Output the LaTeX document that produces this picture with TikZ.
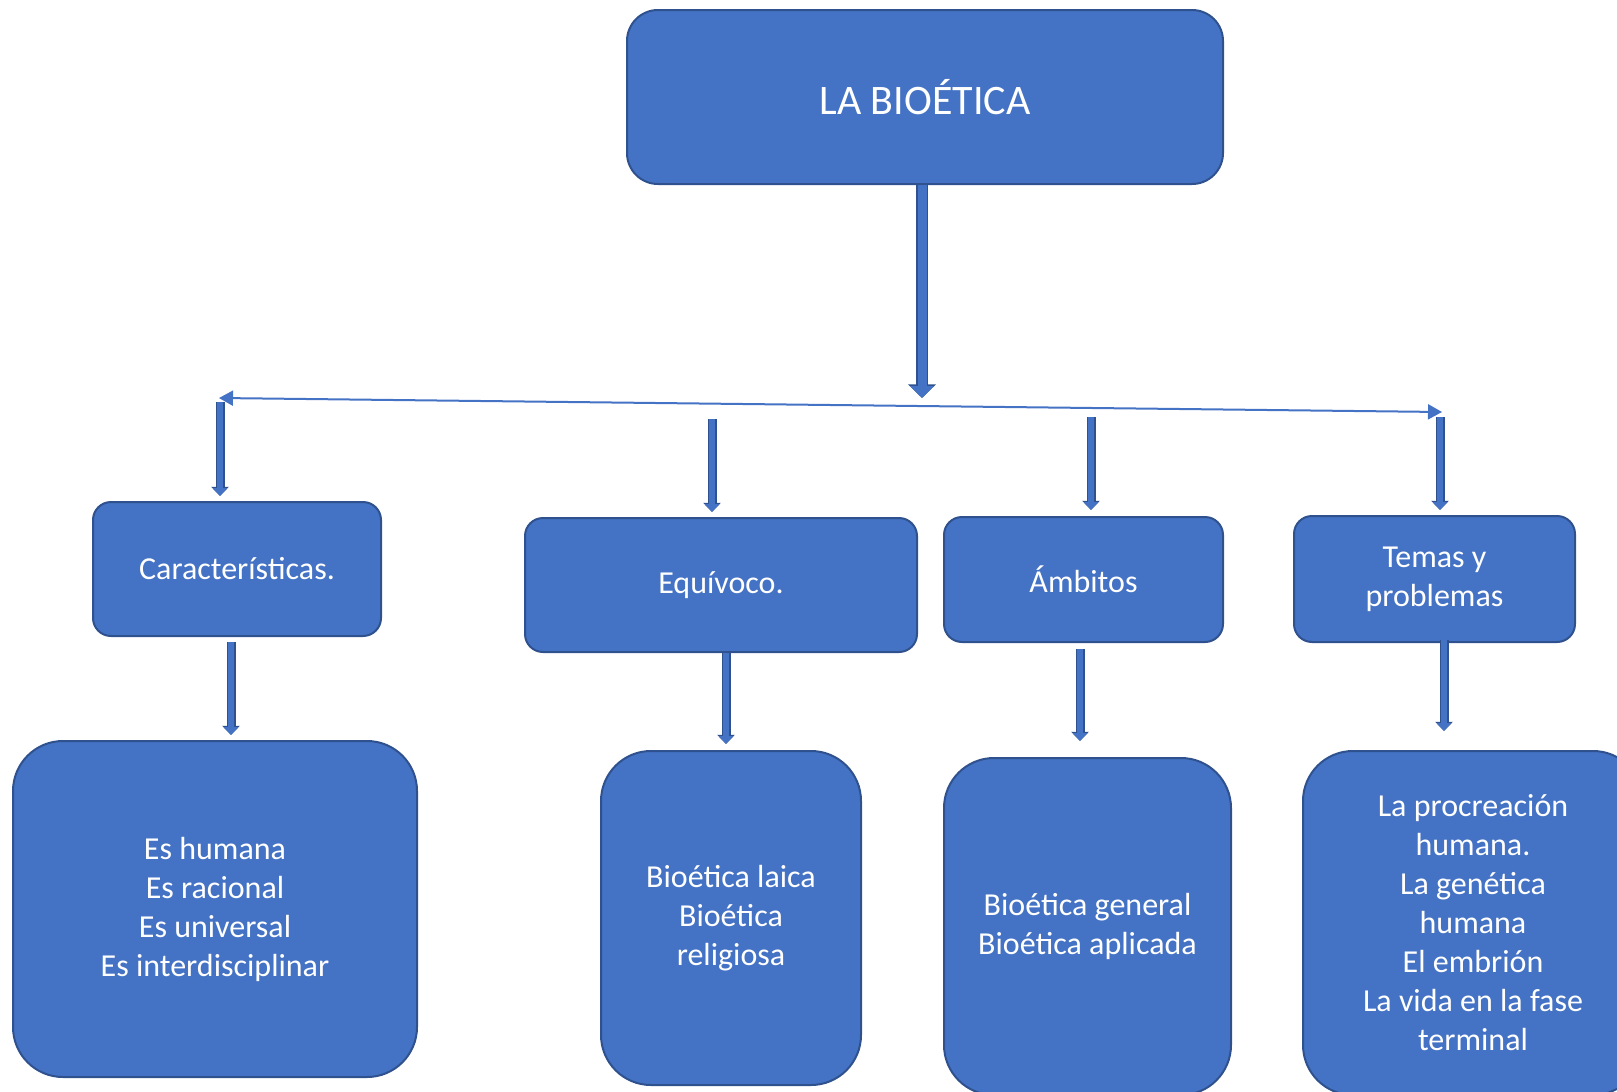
\documentclass[tikz,border=0pt]{standalone}
\usepackage{fontspec}
\setmainfont{Carlito}
\usetikzlibrary{arrows.meta}
\definecolor{boxfill}{HTML}{4472C4}
\definecolor{boxedge}{HTML}{2F528F}
\tikzset{
 box/.style={draw=boxedge, line width=1pt, fill=boxfill, text=white, inner sep=0pt, align=center, font=\fontsize{16}{19.5}\selectfont},
 blkarrow/.style={draw=boxfill, line width=3pt, -{Triangle[length=4pt,width=7pt]},
   preaction={draw=boxedge, line width=4.5pt, -{Triangle[length=4.6pt,width=8.6pt]}}},
 bigarrow/.style={draw=boxfill, line width=4.5pt, -{Triangle[length=6pt,width=11.5pt]},
   preaction={draw=boxedge, line width=6pt, -{Triangle[length=6.8pt,width=13.5pt]}}},
}

\begin{document}
\begin{tikzpicture}[x=0.5pt,y=-0.5pt]
\useasboundingbox (0,0) rectangle (1617,1092);
\clip (0,0) rectangle (1617,1092);
% main box
\node[box, rounded corners=15.5pt, minimum width=298pt, minimum height=87pt, font=\fontsize{21}{25}\selectfont] (top) at (925,97) {LA BIO\'ETICA};
% second row
\node[box, rounded corners=9pt, minimum width=144pt, minimum height=67pt] (c1) at (237,569) {Caracter\'isticas.};
\node[box, rounded corners=9pt, minimum width=196pt, minimum height=67pt] (c2) at (721,585) {Equ\'ivoco.};
\node[box, rounded corners=9pt, minimum width=139.5pt, minimum height=62.5pt] (c3) at (1083.5,579.5) {\'Ambitos};
\node[box, rounded corners=9pt, minimum width=140.5pt, minimum height=63pt] (c4) at (1434.5,579) {Temas y\\problemas};
% third row
\node[box, rounded corners=25pt, minimum width=202pt, minimum height=168pt] (b1) at (215,909) {Es humana\\Es racional\\Es universal\\Es interdisciplinar};
\node[box, rounded corners=25pt, minimum width=130pt, minimum height=167pt] (b2) at (731,918) {Bio\'etica laica\\Bio\'etica\\religiosa};
\node[box, rounded corners=25pt, minimum width=143.5pt, minimum height=168.5pt] (b3) at (1087.5,926.5) {Bio\'etica general\\Bio\'etica aplicada};
\node[box, rounded corners=25pt, minimum width=170pt, minimum height=172pt] (b4) at (1473,923) {La procreaci\'on\\humana.\\La gen\'etica\\humana\\El embri\'on\\La vida en la fase\\terminal};

% arrows
\coordinate (hub) at (922,398);
\coordinate (hl) at (219,398);
\coordinate (hr) at (1442,412);
\draw[bigarrow] (top.south -| hub) -- (hub);
\draw[boxfill, line width=1pt, {Triangle[length=7pt,width=7.5pt]}-{Triangle[length=7pt,width=7.5pt]}] (hl) -- (hr);
\foreach \dst/\x/\y/\gb in {c1/220/402/2.5pt, c2/712/419/2.5pt, c3/1091/417/3pt, c4/1440/417/2.5pt}{
 \coordinate (k) at (\x,\y);
 \draw[blkarrow, shorten >=\gb] (k) -- (\dst.north -| k);
}
\foreach \src/\dst/\x/\ga/\gb in {c1/b1/231/2.5pt/2.5pt, c2/b2/726/0pt/3pt, c3/b3/1080/3pt/8pt, c4/b4/1444/-1.5pt/9.5pt}{
 \coordinate (k) at (\x,0);
 \draw[blkarrow, shorten <=\ga, shorten >=\gb] (\src.south -| k) -- (\dst.north -| k);
}
\end{tikzpicture}
\end{document}
